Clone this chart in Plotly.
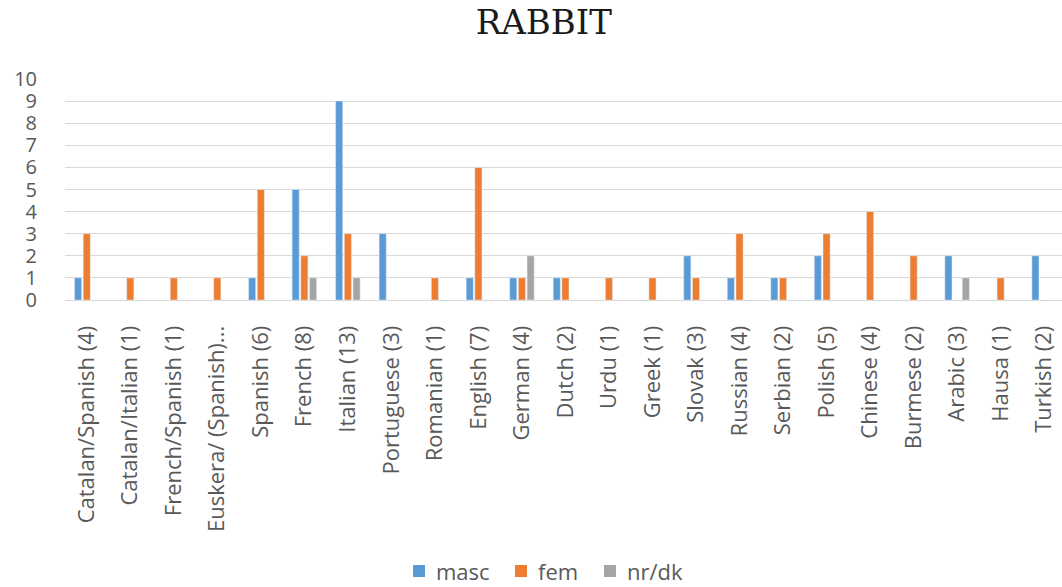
import plotly.graph_objects as go

# Languages surveyed (number of respondents in brackets)
languages = [
    "Catalan/Spanish (4)", "Catalan/Italian (1)", "French/Spanish (1)",
    "Euskera/ (Spanish)...", "Spanish (6)", "French (8)", "Italian (13)",
    "Portuguese (3)", "Romanian (1)", "English (7)", "German (4)", "Dutch (2)",
    "Urdu (1)", "Greek (1)", "Slovak (3)", "Russian (4)", "Serbian (2)",
    "Polish (5)", "Chinese (4)", "Burmese (2)", "Arabic (3)", "Hausa (1)",
    "Turkish (2)",
]

# Grammatical gender assigned to "rabbit"
masc = [1, 0, 0, 0, 1, 5, 9, 3, 0, 1, 1, 1, 0, 0, 2, 1, 1, 2, 0, 0, 2, 0, 2]
fem = [3, 1, 1, 1, 5, 2, 3, 0, 1, 6, 1, 1, 1, 1, 1, 3, 1, 3, 4, 2, 0, 1, 0]
nrdk = [0, 0, 0, 0, 0, 1, 1, 0, 0, 0, 2, 0, 0, 0, 0, 0, 0, 0, 0, 0, 1, 0, 0]

y_ticks = list(range(0, 11))

series_names = ["masc", "fem", "nr/dk"]
series_values = [masc, fem, nrdk]
series_colors = ["#5B9BD5", "#ED7D31", "#A5A5A5"]

W, H = 1062, 587
M_L, M_R, M_T, M_B = 65, 0, 79, 287
PLOT_W = W - M_L - M_R
PLOT_H = H - M_T - M_B


def to_paper(px, py):
    """Convert a pixel position on the page to paper coordinates."""
    return (px - M_L) / PLOT_W, (H - M_B - py) / PLOT_H


fig = go.Figure()
for name, vals, color in zip(series_names, series_values, series_colors):
    fig.add_trace(go.Bar(name=name, x=languages, y=vals, marker_color=color))

# Legend row along the bottom: square swatch followed by its label
legend_font = dict(family="Open Sans", size=22, color="#595959")
swatch_left = [413, 515, 604]
swatch_size = 12
legend_mid_y = 571
shapes, annotations = [], []
for name, color, sx in zip(series_names, series_colors, swatch_left):
    x0, y0 = to_paper(sx, legend_mid_y + swatch_size / 2)
    x1, y1 = to_paper(sx + swatch_size, legend_mid_y - swatch_size / 2)
    shapes.append(dict(type="rect", xref="paper", yref="paper",
                       x0=x0, y0=y0, x1=x1, y1=y1,
                       fillcolor=color, line=dict(width=0)))
    tx, ty = to_paper(sx + swatch_size + 9, legend_mid_y)
    annotations.append(dict(text=name, xref="paper", yref="paper", x=tx, y=ty,
                            xanchor="left", yanchor="middle", showarrow=False,
                            font=legend_font))

label_font = dict(family="Open Sans", size=22, color="#595959")

fig.update_layout(
    width=W,
    height=H,
    paper_bgcolor="white",
    plot_bgcolor="white",
    barmode="group",
    bargap=0.40,
    bargroupgap=0.18,
    margin=dict(l=M_L, r=M_R, t=M_T, b=M_B),
    showlegend=False,
    shapes=shapes,
    annotations=annotations,
    title=dict(
        text="RABBIT",
        x=0.512,
        xanchor="center",
        y=0.963,
        yanchor="middle",
        font=dict(family="DejaVu Serif", size=34, color="#1a1a1a"),
    ),
    xaxis=dict(
        type="category",
        range=[-0.5, 22.41],
        tickangle=-90,
        tickfont=label_font,
        showgrid=False,
        showline=True,
        linecolor="#D9D9D9",
        linewidth=1,
        ticks="",
        ticklabelstandoff=16,
    ),
    yaxis=dict(
        range=[0, 10],
        tickvals=y_ticks,
        tickfont=dict(family="Open Sans", size=20, color="#595959"),
        showgrid=True,
        gridcolor="#D9D9D9",
        gridwidth=1,
        zeroline=False,
        showline=False,
        ticks="",
        ticklabelstandoff=27,
    ),
)

fig.write_html("out.html")
